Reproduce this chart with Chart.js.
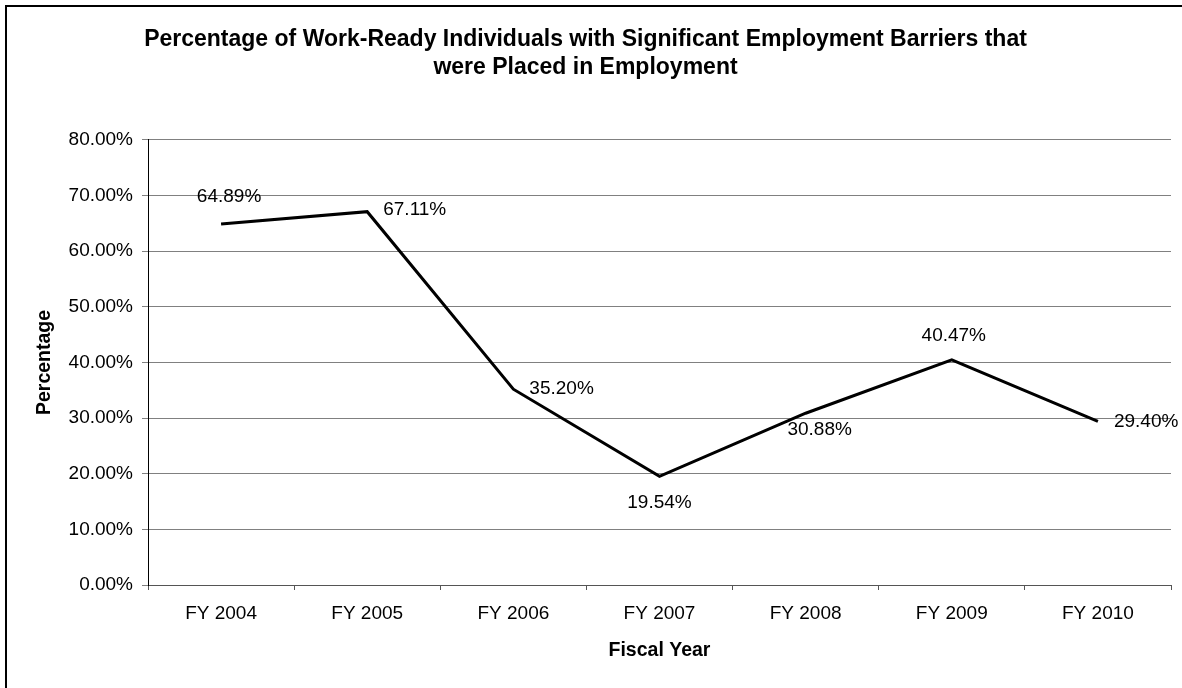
<!DOCTYPE html>
<html lang="en">
<head>
    <meta charset="UTF-8">
    <title>Work-Ready Individuals Placed in Employment</title>
    <script src="https://cdn.jsdelivr.net/npm/chart.js"></script>
    <style>
        html, body {
            margin: 0;
            padding: 0;
            width: 1182px;
            height: 688px;
            overflow: hidden;
            background: #fff;
            font-family: "Liberation Sans", Arial, sans-serif;
        }
        #frame {
            position: absolute;
            left: 5px;
            top: 5px;
            width: 1300px;
            height: 800px;
            border: 2px solid #000;
        }
        #chart {
            position: absolute;
            left: 0;
            top: 0;
        }
    </style>
</head>
<body>
    <div id="frame"></div>
    <canvas id="chart" width="1182" height="688"></canvas>
    <script>
        // Fiscal years and placement rate (%)
        const years = ['FY 2004', 'FY 2005', 'FY 2006', 'FY 2007', 'FY 2008', 'FY 2009', 'FY 2010'];
        const placementRate = [64.89, 67.11, 35.20, 19.54, 30.88, 40.47, 29.40];

        // where each value label sits relative to its point: [dx, dy, align]
        const labelSpots = [
            [8, -27, 'center'],
            [16, -2, 'left'],
            [16, 0, 'left'],
            [0, 26, 'center'],
            [14, 17, 'center'],
            [2, -24, 'center'],
            [16, 0, 'left']
        ];

        const font = '"Liberation Sans", Arial, sans-serif';

        // draws the value labels next to each point
        const valueLabels = {
            id: 'valueLabels',
            afterDatasetsDraw(chart) {
                const ctx = chart.ctx;
                const meta = chart.getDatasetMeta(0);
                ctx.save();
                ctx.font = '19px ' + font;
                ctx.fillStyle = '#000';
                ctx.textBaseline = 'middle';
                meta.data.forEach((pt, i) => {
                    const [dx, dy, align] = labelSpots[i];
                    ctx.textAlign = align;
                    ctx.fillText(placementRate[i].toFixed(2) + '%', pt.x + dx, pt.y + dy);
                });
                ctx.restore();
            }
        };

        new Chart(document.getElementById('chart'), {
            type: 'line',
            data: {
                labels: years,
                datasets: [{
                    data: placementRate,
                    borderColor: '#000',
                    borderWidth: 3,
                    pointRadius: 0,
                    tension: 0,
                    fill: false
                }]
            },
            options: {
                responsive: false,
                animation: false,
                layout: { padding: { left: 0, right: 11, top: 0, bottom: 0 } },
                plugins: {
                    legend: { display: false },
                    tooltip: { enabled: false },
                    title: {
                        display: true,
                        text: ['Percentage of Work-Ready Individuals with Significant Employment Barriers that',
                               'were Placed in Employment'],
                        color: '#000',
                        font: { family: font, size: 23, weight: 'bold', lineHeight: 1.217 },
                        padding: { top: 26, bottom: 58 }
                    }
                },
                scales: {
                    x: {
                        offset: true,
                        afterFit(scale) { scale.height = 103; },
                        grid: {
                            offset: true,
                            drawOnChartArea: false,
                            tickLength: 5,
                            color: '#555'
                        },
                        border: { color: '#555', width: 1 },
                        ticks: {
                            color: '#000',
                            padding: 12,
                            font: { family: font, size: 19 }
                        },
                        title: {
                            display: true,
                            text: 'Fiscal Year',
                            color: '#000',
                            font: { family: font, size: 19.5, weight: 'bold' },
                            padding: { top: 0, bottom: 26 }
                        }
                    },
                    y: {
                        min: 0,
                        max: 80,
                        afterFit(scale) { scale.width = 148; },
                        grid: {
                            color: '#808080',
                            tickLength: 6
                        },
                        border: { color: '#000', width: 1 },
                        ticks: {
                            stepSize: 10,
                            color: '#000',
                            padding: 9,
                            font: { family: font, size: 19 },
                            callback: v => v.toFixed(2) + '%'
                        },
                        title: {
                            display: true,
                            text: 'Percentage',
                            color: '#000',
                            font: { family: font, size: 19.5, weight: 'bold' },
                            padding: { top: 33, bottom: 0 }
                        }
                    }
                }
            },
            plugins: [valueLabels]
        });
    </script>
</body>
</html>
